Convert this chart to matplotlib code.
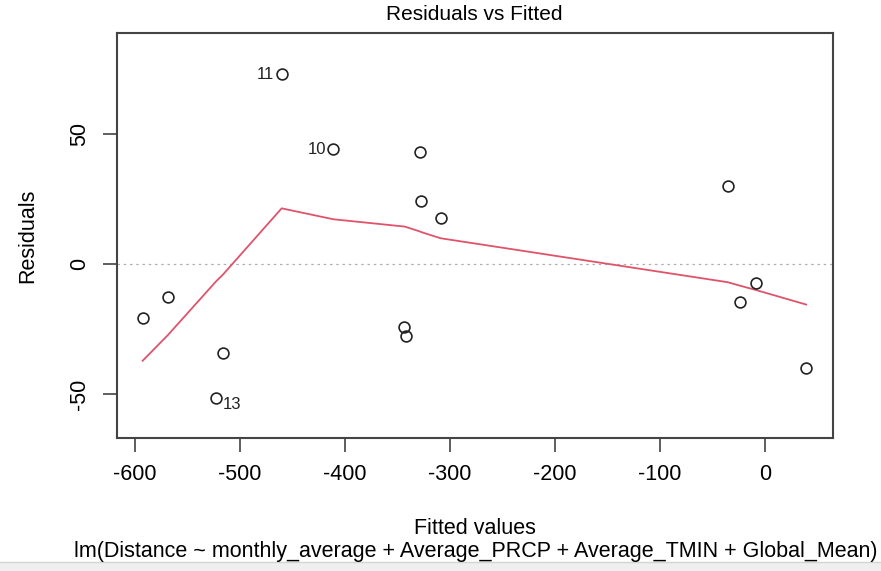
import numpy as np
import matplotlib
matplotlib.use('Agg')
import matplotlib.pyplot as plt
from matplotlib.patches import Rectangle

plt.rcParams['font.family'] = ['Liberation Sans', 'DejaVu Sans']

# fitted values and residuals, one per observation
fitted = [-460.3, -411.1, -328.6, -327.6, -308.9, -592.7, -568.6, -516.5,
          -522.6, -343.5, -341.6, -35.5, -8.6, -24.1, 39.3]
resid = [73.1, 44.2, 43.3, 24.3, 17.7, -20.7, -12.7, -34.1,
         -51.5, -24.2, -27.6, 30.0, -7.3, -14.6, -39.9]
obs_id = [11, 10, 0, 0, 0, 0, 0, 0, 13, 0, 0, 0, 0, 0, 0]

# smoother (lowess) through the points, sorted by fitted value
smooth_x = [-592.7, -568.6, -522.6, -516.5, -460.3, -411.1, -343.5, -341.6,
            -328.6, -327.6, -308.9, -35.5, -24.1, -8.6, 39.3]
smooth_y = [-37.1, -27.2, -6.5, -4.1, 21.5, 17.3, 14.5, 14.3,
            12.6, 12.4, 10.0, -6.9, -8.2, -9.9, -15.5]

x_ticks = [-600, -500, -400, -300, -200, -100, 0]
y_ticks = [-50, 0, 50]

W, H = 881, 571
fig = plt.figure(figsize=(W / 100, H / 100), dpi=100)
ax = fig.add_axes([116.7 / W, 1 - 438 / H, (832.7 - 116.7) / W, (438 - 33.3) / H])

ax.axhline(0, color='#b0b0b0', lw=0.9, ls=(0, (2, 3)), zorder=1)
ax.plot(smooth_x, smooth_y, color='#DF536B', lw=1.3, zorder=2)
ax.plot(fitted, resid, 'o', mfc='none', mec='#222222', ms=7.8, mew=1.2, zorder=3)

for xv, yv, lab in zip(fitted, resid, obs_id):
    if lab == 0:
        continue
    if yv < 0:
        ax.text(xv + 6.5, yv - 2.5, str(lab), fontsize=12, ha='left', va='center', color='#222222')
    else:
        ax.text(xv - 7, yv, str(lab), fontsize=12, ha='right', va='center', color='#222222')

ax.set_xlim(-617.4, 64.5)
ax.set_ylim(-66.8, 88.8)
ax.set_xticks(x_ticks)
ax.set_yticks(y_ticks)
ax.set_xticklabels([str(v) for v in x_ticks])
ax.set_yticklabels([str(v) for v in y_ticks], rotation=90, va='center')
ax.tick_params(axis='both', length=10, width=1.1, color='#333333', labelsize=15.5, pad=9)
for s in ax.spines.values():
    s.set_color('#444444')
    s.set_linewidth(1.5)

fig.text(474.7 / W, 1 - 15 / H, 'Residuals vs Fitted', fontsize=15, ha='center', va='center')
fig.text(28 / W, 1 - 236 / H, 'Residuals', fontsize=15.5, ha='center', va='center', rotation=90)
fig.text(474.7 / W, 1 - 529 / H, 'Fitted values', fontsize=15.5, ha='center', va='center')
fig.text(476 / W, 1 - 551 / H,
         'lm(Distance ~ monthly_average + Average_PRCP + Average_TMIN + Global_Mean)',
         fontsize=15.5, ha='center', va='center')

# grey strip along the bottom edge of the screenshot
fig.patches.append(Rectangle((0, 0), 1, 9 / H, transform=fig.transFigure,
                             facecolor='#efefef', edgecolor='none', zorder=0))
fig.lines.append(plt.Line2D([0, 1], [9 / H, 9 / H], transform=fig.transFigure,
                            color='#d4d4d4', lw=1))

fig.savefig('out.png', dpi=100)
